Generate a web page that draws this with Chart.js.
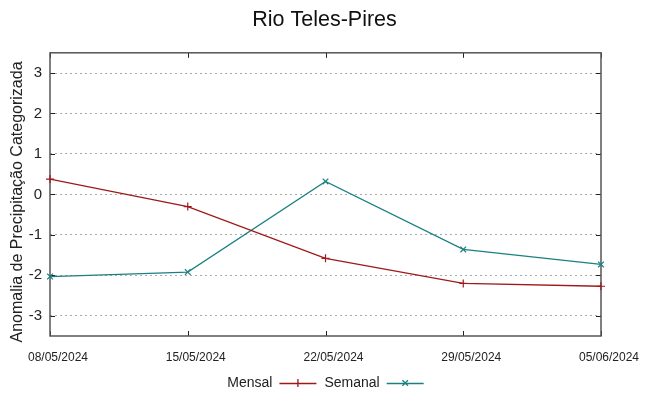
<!DOCTYPE html>
<html>
<head>
<meta charset="utf-8">
<script src="https://cdn.jsdelivr.net/npm/chart.js@4/dist/chart.umd.min.js"></script>
<style>
  html, body { margin: 0; padding: 0; background: #fff; }
  canvas { display: block; }
</style>
</head>
<body>
<canvas id="chart" width="649" height="396"></canvas>
<script>
const categories = ['08/05/2024', '15/05/2024', '22/05/2024', '29/05/2024', '05/06/2024'];
const mensal = [0.38, -0.30, -1.58, -2.20, -2.27];
const semanal = [-2.03, -1.92, 0.32, -1.36, -1.73];
const yTicks = [-3, -2, -1, 0, 1, 2, 3];

const FONT = "'Liberation Sans', Arial, sans-serif";

// gnuplot style frame with inward tick marks
const framePlugin = {
  id: 'frame',
  beforeDatasetsDraw(chart) {
    const { ctx, chartArea: a, scales } = chart;
    ctx.save();
    ctx.strokeStyle = '#222';
    ctx.lineWidth = 1;
    ctx.beginPath();
    scales.y.ticks.forEach(t => {
      const y = Math.round(scales.y.getPixelForValue(t.value)) + 0.5;
      ctx.moveTo(a.left, y); ctx.lineTo(a.left + 5, y);
      ctx.moveTo(a.right - 5, y); ctx.lineTo(a.right, y);
    });
    categories.forEach((c, i) => {
      const x = Math.round(scales.x.getPixelForValue(i)) + 0.5;
      ctx.moveTo(x, a.bottom); ctx.lineTo(x, a.bottom - 5);
      ctx.moveTo(x, a.top); ctx.lineTo(x, a.top + 5);
    });
    ctx.stroke();
    ctx.strokeStyle = '#555';
    ctx.lineWidth = 1.5;
    ctx.strokeRect(a.left, a.top, a.right - a.left, a.bottom - a.top);
    ctx.restore();
  },
  afterDraw(chart) {
    // y axis title, placed like the gnuplot one
    const { ctx } = chart;
    ctx.save();
    ctx.font = '16px ' + FONT;
    ctx.fillStyle = '#222';
    ctx.textAlign = 'center';
    ctx.textBaseline = 'middle';
    ctx.translate(18, 202);
    ctx.rotate(-Math.PI / 2);
    ctx.fillText('Anomalia de Precipitação Categorizada', 0, 0);
    ctx.restore();
  }
};

// legend: "label  ---marker---"
const legendPlugin = {
  id: 'lineLegend',
  afterDraw(chart) {
    const { ctx } = chart;
    ctx.save();
    ctx.font = '14px ' + FONT;
    ctx.textBaseline = 'middle';
    const sample = 37, gapText = 7, gapItem = 8;
    const items = chart.data.datasets.map(ds => ({ ds, w: ctx.measureText(ds.label).width }));
    const total = items.reduce((s, it) => s + it.w + gapText + sample, 0) + gapItem * (items.length - 1);
    let x = (chart.width - total) / 2 + 1;
    const y = 383;
    items.forEach(({ ds, w }) => {
      ctx.fillStyle = '#222';
      ctx.textAlign = 'left';
      ctx.fillText(ds.label, x, y);
      x += w + gapText;
      ctx.strokeStyle = ds.borderColor;
      ctx.lineWidth = 1.3;
      ctx.beginPath();
      ctx.moveTo(x, y + 0.5); ctx.lineTo(x + sample, y + 0.5);
      ctx.stroke();
      const cx = x + sample / 2, r = 4;
      ctx.beginPath();
      if (ds.pointStyle === 'cross') {
        ctx.moveTo(cx, y - r); ctx.lineTo(cx, y + r);
      } else {
        ctx.moveTo(cx - r * 0.7, y - r * 0.7); ctx.lineTo(cx + r * 0.7, y + r * 0.7);
        ctx.moveTo(cx + r * 0.7, y - r * 0.7); ctx.lineTo(cx - r * 0.7, y + r * 0.7);
      }
      ctx.stroke();
      x += sample + gapItem;
    });
    ctx.restore();
  }
};

new Chart(document.getElementById('chart'), {
  type: 'line',
  data: {
    labels: categories,
    datasets: [
      {
        label: 'Mensal',
        data: mensal,
        borderColor: '#9e1a1a',
        backgroundColor: '#9e1a1a',
        borderWidth: 1.3,
        pointStyle: 'cross',
        pointRadius: 4,
        pointBorderWidth: 1.2,
        tension: 0,
        clip: false
      },
      {
        label: 'Semanal',
        data: semanal,
        borderColor: '#1a8080',
        backgroundColor: '#1a8080',
        borderWidth: 1.3,
        pointStyle: 'crossRot',
        pointRadius: 4,
        pointBorderWidth: 1.2,
        tension: 0,
        clip: false
      }
    ]
  },
  options: {
    responsive: false,
    devicePixelRatio: 1,
    animation: false,
    layout: { padding: 0 },
    plugins: {
      legend: { display: false },
      tooltip: { enabled: false },
      title: {
        display: true,
        text: 'Rio Teles-Pires',
        color: '#111',
        font: { family: FONT, size: 21.5, weight: 'normal' },
        padding: { top: 7, bottom: 20 }
      }
    },
    scales: {
      x: {
        type: 'category',
        offset: false,
        grid: { display: false, drawTicks: false },
        border: { display: false },
        ticks: {
          color: '#222',
          font: { family: FONT, size: 12 },
          padding: 14,
          labelOffset: 8,
          maxRotation: 0,
          autoSkip: false
        },
        afterFit(scale) { scale.height = 60; }
      },
      y: {
        min: -3.5,
        max: 3.5,
        afterBuildTicks(scale) { scale.ticks = yTicks.map(v => ({ value: v })); },
        grid: {
          color: '#aaa',
          lineWidth: 1,
          drawTicks: false
        },
        border: { display: false, dash: [2, 3] },
        ticks: {
          color: '#222',
          font: { family: FONT, size: 15 },
          padding: 8
        },
        afterFit(scale) { scale.width = 50; }
      },
      yRight: {
        position: 'right',
        min: -3.5,
        max: 3.5,
        grid: { display: false, drawTicks: false },
        border: { display: false },
        ticks: { display: false },
        afterFit(scale) { scale.width = 48; }
      }
    }
  },
  plugins: [framePlugin, legendPlugin]
});
</script>
</body>
</html>
